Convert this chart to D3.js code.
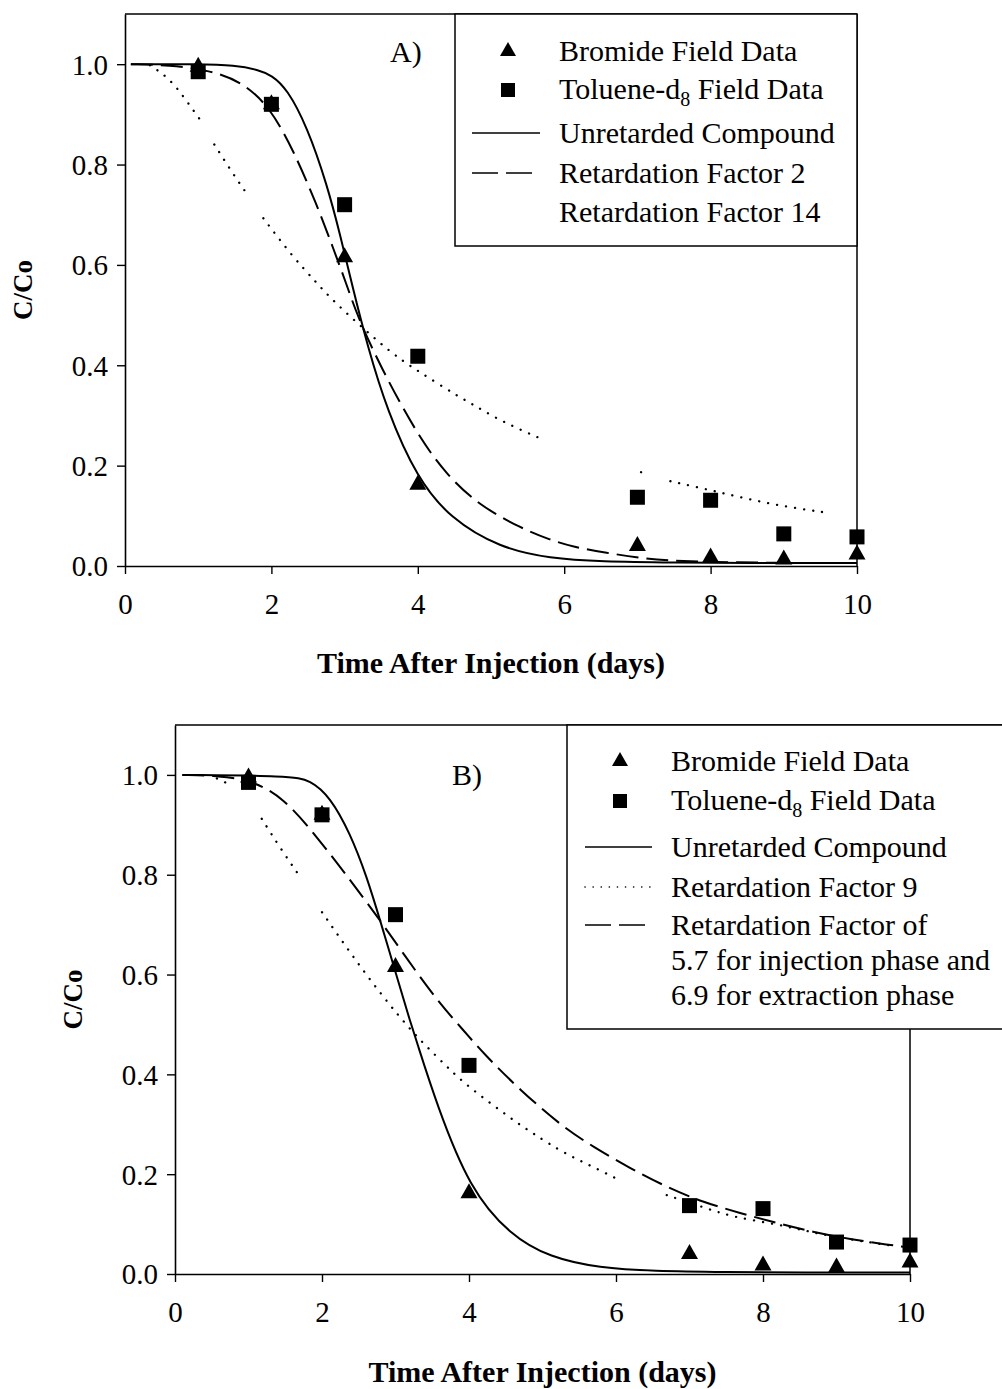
<!DOCTYPE html>
<html>
<head>
<meta charset="utf-8">
<script src="https://cdn.jsdelivr.net/npm/d3@7"></script>
<style>
  html, body { margin: 0; padding: 0; background: #fff; }
  svg { display: block; }
  text { font-family: "Liberation Serif", "Times New Roman", serif; fill: #000; }
</style>
</head>
<body>
<svg id="chart" width="1002" height="1389"></svg>
<script>
// ---------------- DATA ----------------
const sampleDays = [1, 2, 3, 4, 7, 8, 9, 10];
const bromide    = [1.0, 0.925, 0.62, 0.167, 0.045, 0.022, 0.018, 0.028];
const toluene    = [0.985, 0.92, 0.72, 0.418, 0.137, 0.131, 0.064, 0.058];

const xTicks = [0, 2, 4, 6, 8, 10];
const yTicks = [0, 0.2, 0.4, 0.6, 0.8, 1.0];

// Panel A model curves
const aSolidT = [0.08, 1.0, 1.5, 1.84, 2.0, 2.21, 2.49, 2.76, 2.94, 3.11, 3.31, 3.58, 3.99, 4.44, 5.12, 5.81, 6.5, 7.5, 8.5, 10];
const aSolidV = [1.0, 1.0, 0.998, 0.988, 0.978, 0.952, 0.875, 0.76, 0.66, 0.555, 0.44, 0.31, 0.175, 0.095, 0.036, 0.015, 0.009, 0.007, 0.006, 0.006];
const aDashT  = [0.08, 0.6, 1.16, 1.61, 1.98, 2.30, 2.62, 2.84, 3.03, 3.17, 3.48, 3.99, 4.40, 4.85, 5.40, 5.81, 6.12, 6.58, 7.04, 7.40, 8.0, 9.0, 10];
const aDashV  = [1.0, 0.998, 0.988, 0.964, 0.914, 0.829, 0.72, 0.635, 0.56, 0.5, 0.4, 0.262, 0.18, 0.12, 0.076, 0.052, 0.038, 0.026, 0.016, 0.011, 0.008, 0.006, 0.006];
const aDotT   = [0.34, 0.59, 0.81, 1.07, null, 1.22, 1.46, 1.63, null, 1.89, 2.28, 2.62, 2.87, 3.48, 3.76, 4.03, 4.54, 4.81, 5.16, 5.74, null, 7.05, 7.12, null, 7.45, 8.09, 8.85, 9.55];
const aDotV   = [0.998, 0.974, 0.934, 0.88, null, 0.84, 0.785, 0.749, null, 0.693, 0.618, 0.564, 0.524, 0.444, 0.412, 0.386, 0.339, 0.317, 0.287, 0.25, null, 0.187, 0.183, null, 0.169, 0.148, 0.122, 0.107];

// Panel B model curves
const bSolidT = [0.1, 1.56, 1.84, 2.11, 2.38, 2.61, 2.79, 3.02, 3.17, 3.29, 3.56, 4.01, 4.56, 5.10, 5.78, 6.5, 7.5, 8.5, 10];
const bSolidV = [1.0, 0.998, 0.99, 0.956, 0.884, 0.796, 0.709, 0.595, 0.52, 0.465, 0.34, 0.17, 0.078, 0.033, 0.012, 0.006, 0.004, 0.003, 0.003];
const bDashT  = [0.1, 0.6, 1.02, 1.47, 1.93, 2.38, 2.79, 3.10, 3.56, 3.92, 4.19, 4.69, 5.28, 5.69, 6.19, 6.69, 7.18, 7.69, 8.19, 8.68, 9.18, 9.73, 9.95];
const bDashV  = [1.0, 0.998, 0.99, 0.956, 0.876, 0.79, 0.709, 0.643, 0.549, 0.489, 0.443, 0.369, 0.294, 0.255, 0.212, 0.174, 0.144, 0.122, 0.102, 0.084, 0.07, 0.058, 0.054];
const bDotT   = [0.57, 0.74, null, 1.18, 1.43, 1.70, null, 2.0, 2.4, 2.83, 3.24, 3.51, 3.77, 4.01, 4.65, 4.90, 5.28, 5.78, 6.05, null, 6.69, 7.2, 7.59, 8.19, 8.68, 9.18, 9.8];
const bDotV   = [0.993, 0.981, null, 0.912, 0.854, 0.796, null, 0.725, 0.64, 0.555, 0.483, 0.443, 0.405, 0.373, 0.303, 0.279, 0.243, 0.208, 0.188, null, 0.158, 0.133, 0.114, 0.1, 0.083, 0.069, 0.056];

const legendA = ["Bromide Field Data", "Toluene-d|8| Field Data", "Unretarded Compound", "Retardation Factor 2", "Retardation Factor 14"];
const legendB = ["Bromide Field Data", "Toluene-d|8| Field Data", "Unretarded Compound", "Retardation Factor 9", "Retardation Factor of", "5.7 for injection phase and", "6.9 for extraction phase"];

// ---------------- STYLES ----------------
const STYLE = {
  solid:  { width: 2,   dash: null,       cap: "butt" },
  dashed: { width: 2,   dash: "22,8",     cap: "butt" },
  dotted: { width: 2.3, dash: "0.1,9",    cap: "round" }
};

const svg = d3.select("#chart");
svg.append("rect").attr("width", 1002).attr("height", 1389).attr("fill", "#fff");

function zip(t, v) { return t.map((d, i) => ({ t: d, v: v[i] })); }

function triPath(w, h) {
  return `M0,${-h/2}L${w/2},${h/2}L${-w/2},${h/2}Z`;
}

function drawPanel(cfg) {
  const g = svg.append("g");
  const x = d3.scaleLinear().domain([0, 10]).range([cfg.left, cfg.right]);
  const y = d3.scaleLinear().domain([0, 1.1]).range([cfg.bottom, cfg.top]);

  // frame
  g.append("path")
    .attr("d", `M${cfg.left},${cfg.top}H${cfg.frameTopRight}M${cfg.right},${cfg.top}V${cfg.bottom}`)
    .attr("stroke", "#000").attr("stroke-width", 1.5).attr("fill", "none");

  // axes
  const yAxis = d3.axisLeft(y).tickValues(yTicks).tickFormat(d3.format(".1f"))
    .tickSizeInner(8).tickSizeOuter(0).tickPadding(9);
  const xAxis = d3.axisBottom(x).tickValues(xTicks).tickFormat(d3.format("d"))
    .tickSizeInner(8).tickSizeOuter(0).tickPadding(19);

  const ya = g.append("g").attr("transform", `translate(${cfg.left},0)`).call(yAxis);
  const xa = g.append("g").attr("transform", `translate(0,${cfg.bottom})`).call(xAxis);
  [ya, xa].forEach(a => {
    a.select(".domain").attr("stroke", "#000").attr("stroke-width", 1.6);
    a.selectAll(".tick line").attr("stroke", "#000").attr("stroke-width", 1.4);
    a.selectAll(".tick text").attr("font-family", "Liberation Serif, serif").attr("font-size", 29).attr("fill", "#000");
  });
  ya.selectAll(".tick text").attr("dy", "0.34em");
  xa.selectAll(".tick text").attr("dy", "0.72em");

  // curves
  const line = d3.line().defined(d => d.t != null && d.v != null)
    .x(d => x(d.t)).y(d => y(d.v)).curve(d3.curveBasis);
  cfg.curves.forEach(c => {
    const s = STYLE[c.style];
    g.append("path").attr("d", line(zip(c.t, c.v)))
      .attr("fill", "none").attr("stroke", "#000")
      .attr("stroke-width", s.width)
      .attr("stroke-dasharray", s.dash)
      .attr("stroke-linecap", s.cap);
  });

  // markers
  g.selectAll(".tri").data(sampleDays.map((d, i) => ({ t: d, v: bromide[i] })))
    .join("path").attr("class", "tri")
    .attr("d", triPath(17, 15))
    .attr("transform", d => `translate(${x(d.t)},${y(d.v)})`)
    .attr("fill", "#000");
  g.selectAll(".sq").data(sampleDays.map((d, i) => ({ t: d, v: toluene[i] })))
    .join("rect").attr("class", "sq")
    .attr("x", d => x(d.t) - 7.5).attr("y", d => y(d.v) - 7.5)
    .attr("width", 15).attr("height", 15)
    .attr("fill", "#000");

  // panel label
  g.append("text").attr("x", cfg.panelLabel.x).attr("y", cfg.panelLabel.y)
    .attr("font-size", 30).text(cfg.panelLabel.text);

  // axis titles
  g.append("text").attr("x", (cfg.left + cfg.right) / 2).attr("y", cfg.xTitleY)
    .attr("text-anchor", "middle").attr("font-size", 30).attr("font-weight", "bold")
    .text("Time After Injection (days)");
  g.append("text")
    .attr("transform", `translate(${cfg.yTitleX},${(cfg.top + cfg.bottom) / 2}) rotate(-90)`)
    .attr("text-anchor", "middle").attr("dy", "0.35em")
    .attr("font-size", 27).attr("font-weight", "bold")
    .text("C/Co");

  // legend
  const L = cfg.legend;
  g.append("rect").attr("x", L.x).attr("y", L.y).attr("width", L.w).attr("height", L.h)
    .attr("fill", "#fff").attr("stroke", "#000").attr("stroke-width", 1.5);
  L.items.forEach((label, i) => {
    const by = L.baselines[i];
    const t = g.append("text").attr("x", L.textX).attr("y", by).attr("font-size", 30);
    const parts = label.split("|");
    if (parts.length === 3) {
      t.append("tspan").text(parts[0]);
      t.append("tspan").attr("font-size", 20).attr("dy", 7).text(parts[1]);
      t.append("tspan").attr("dy", -7).text(parts[2]);
    } else {
      t.text(label);
    }
    const sym = L.symbols[i];
    if (sym === "tri") {
      g.append("path").attr("d", triPath(16, 14)).attr("transform", `translate(${L.symX},${by - 12})`).attr("fill", "#000");
    } else if (sym === "sq") {
      g.append("rect").attr("x", L.symX - 7).attr("y", by - 16).attr("width", 14).attr("height", 14).attr("fill", "#000");
    } else if (sym) {
      const s = STYLE[sym];
      g.append("line").attr("x1", L.lineX1).attr("x2", L.lineX2).attr("y1", by - 10).attr("y2", by - 10)
        .attr("stroke", "#000").attr("stroke-width", 1.6)
        .attr("stroke-dasharray", sym === "dotted" ? "0.1,8" : (sym === "dashed" ? "26,8" : null))
        .attr("stroke-linecap", s.cap);
    }
  });
}

drawPanel({
  left: 125, right: 857, top: 14, bottom: 566, frameTopRight: 857,
  panelLabel: { x: 390, y: 62, text: "A)" },
  xTitleY: 673, yTitleX: 23,
  curves: [
    { t: aDotT, v: aDotV, style: "dotted" },
    { t: aDashT, v: aDashV, style: "dashed" },
    { t: aSolidT, v: aSolidV, style: "solid" }
  ],
  legend: {
    x: 455, y: 14, w: 402, h: 232,
    textX: 559, symX: 508, lineX1: 472, lineX2: 540,
    baselines: [61, 99, 143, 183, 222],
    items: legendA,
    symbols: ["tri", "sq", "solid", "dashed", null]
  }
});

drawPanel({
  left: 175, right: 910, top: 725, bottom: 1274, frameTopRight: 1002,
  panelLabel: { x: 452, y: 785, text: "B)" },
  xTitleY: 1382, yTitleX: 73,
  curves: [
    { t: bDotT, v: bDotV, style: "dotted" },
    { t: bDashT, v: bDashV, style: "dashed" },
    { t: bSolidT, v: bSolidV, style: "solid" }
  ],
  legend: {
    x: 567, y: 725, w: 450, h: 304,
    textX: 671, symX: 620, lineX1: 585, lineX2: 652,
    baselines: [771, 810, 857, 897, 935, 970, 1005],
    items: legendB,
    symbols: ["tri", "sq", "solid", "dotted", "dashed", null, null]
  }
});
</script>
</body>
</html>
